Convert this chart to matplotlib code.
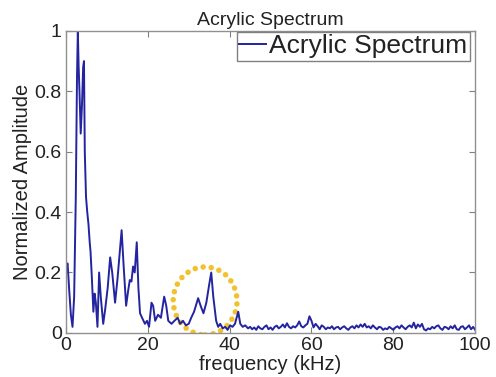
import matplotlib
matplotlib.use("Agg")
import matplotlib.pyplot as plt
from matplotlib.patches import Ellipse

plt.rcParams['font.family'] = ['Liberation Sans', 'DejaVu Sans']

# spectrum (kHz, normalized amplitude)
low_freq = [0, 0.4, 0.8, 1.2, 1.6, 2.0, 2.4, 2.7, 2.9, 3.1, 3.3, 3.6, 3.9, 4.2, 4.4,
            4.6, 4.9, 5.2, 5.5, 5.8, 6.0, 6.3, 6.7, 7.0, 7.3, 7.7, 8.1, 8.5, 9.1, 9.6,
            10.2, 10.8, 11.3, 12.0, 12.6, 13.1, 13.6, 14.1, 14.7, 15.2, 15.6, 16.0,
            16.4, 16.8, 17.3, 17.7, 18.1, 18.6, 19.3, 19.8]
low_amp = [0.22, 0.23, 0.14, 0.06, 0.02, 0.12, 0.45, 0.85, 1.0, 0.88, 0.80, 0.66,
           0.75, 0.88, 0.90, 0.60, 0.45, 0.40, 0.36, 0.30, 0.27, 0.19, 0.07, 0.13,
           0.10, 0.02, 0.20, 0.12, 0.03, 0.08, 0.15, 0.25, 0.20, 0.10, 0.18, 0.26,
           0.34, 0.22, 0.09, 0.14, 0.175, 0.17, 0.22, 0.20, 0.30, 0.15, 0.065, 0.05,
           0.03, 0.04]

mid_freq = [20.3, 20.9, 21.3, 21.8, 22.5, 23.2, 24.0, 24.5, 25.0, 25.8, 26.5, 27.3,
            27.9, 28.6, 29.3, 30.0, 30.6, 31.3, 32.3, 32.9, 33.6, 34.3, 35.0, 35.5,
            36.0, 36.7, 37.2, 37.7, 38.3, 38.9, 39.5, 40.1, 40.7, 41.3, 42.1, 42.6,
            43.2, 43.8, 44.5]
mid_amp = [0.02, 0.10, 0.09, 0.04, 0.06, 0.05, 0.12, 0.09, 0.04, 0.03, 0.04, 0.05,
           0.03, 0.04, 0.025, 0.03, 0.05, 0.07, 0.115, 0.09, 0.065, 0.10, 0.16, 0.20,
           0.12, 0.04, 0.02, 0.03, 0.015, 0.02, 0.01, 0.025, 0.02, 0.03, 0.07, 0.03,
           0.02, 0.025, 0.015]

tail_freq = [45.0, 45.5, 46.0, 46.5, 47.0, 47.5, 48.0, 48.5, 49.0, 49.5,
             50.0, 50.5, 51.0, 51.5, 52.0, 52.5, 53.0, 53.5, 54.0, 54.5,
             55.0, 55.5, 56.0, 56.5, 57.0, 57.5, 58.0, 58.5, 59.0, 59.5,
             60.0, 60.5, 61.0, 61.5, 62.0, 62.5, 63.0, 63.5, 64.0, 64.5,
             65.0, 65.5, 66.0, 66.5, 67.0, 67.5, 68.0, 68.5, 69.0, 69.5,
             70.0, 70.5, 71.0, 71.5, 72.0, 72.5, 73.0, 73.5, 74.0, 74.5,
             75.0, 75.5, 76.0, 76.5, 77.0, 77.5, 78.0, 78.5, 79.0, 79.5,
             80.0, 80.5, 81.0, 81.5, 82.0, 82.5, 83.0, 83.5, 84.0, 84.5,
             85.0, 85.5, 86.0, 86.5, 87.0, 87.5, 88.0, 88.5, 89.0, 89.5,
             90.0, 90.5, 91.0, 91.5, 92.0, 92.5, 93.0, 93.5, 94.0, 94.5,
             95.0, 95.5, 96.0, 96.5, 97.0, 97.5, 98.0, 98.5, 99.0, 99.5, 100.0]
tail_amp = [0.020, 0.012, 0.018, 0.010, 0.022, 0.015, 0.012, 0.020, 0.025, 0.012,
            0.018, 0.010, 0.020, 0.024, 0.015, 0.020, 0.028, 0.018, 0.032, 0.020,
            0.015, 0.022, 0.018, 0.025, 0.038, 0.022, 0.018, 0.025, 0.030, 0.055,
            0.040, 0.018, 0.030, 0.022, 0.012, 0.025, 0.020, 0.012, 0.018, 0.015,
            0.022, 0.012, 0.018, 0.020, 0.012, 0.018, 0.022, 0.015, 0.010, 0.018,
            0.022, 0.015, 0.025, 0.018, 0.028, 0.020, 0.030, 0.018, 0.022, 0.015,
            0.025, 0.018, 0.012, 0.020, 0.018, 0.010, 0.015, 0.012, 0.020, 0.015,
            0.010, 0.018, 0.022, 0.015, 0.025, 0.018, 0.012, 0.020, 0.025, 0.018,
            0.034, 0.015, 0.028, 0.020, 0.030, 0.012, 0.008, 0.015, 0.012, 0.020,
            0.015, 0.022, 0.025, 0.015, 0.010, 0.020, 0.018, 0.012, 0.022, 0.015,
            0.025, 0.012, 0.010, 0.020, 0.022, 0.012, 0.018, 0.025, 0.012, 0.020, 0.010]

freq = low_freq + mid_freq + tail_freq
amp = low_amp + mid_amp + tail_amp

x_ticks = [0, 20, 40, 60, 80, 100]
y_ticks = [0, 0.2, 0.4, 0.6, 0.8, 1]
y_ticklabels = ['0', '0.2', '0.4', '0.6', '0.8', '1']

fig = plt.figure(figsize=(4.96, 3.77), dpi=100)
ax = fig.add_axes([0.133, 0.117, 0.825, 0.801])

ax.plot(freq, amp, color='#2424a0', lw=1.4, label='Acrylic Spectrum')

# dotted circle around the 35 kHz peak
circ = Ellipse((34, 0.106), 15.6, 0.225, fill=False, edgecolor='#f2c22e',
               lw=4, linestyle=(0, (0.01, 1.45)))
circ.set_capstyle('round')
ax.add_patch(circ)

ax.set_xlim(0, 100)
ax.set_ylim(0, 1)
ax.set_xticks(x_ticks)
ax.set_yticks(y_ticks)
ax.set_yticklabels(y_ticklabels)
ax.tick_params(direction='in', length=4, width=0.8, color='#808080',
               labelsize=14, labelcolor='#222222', top=True, right=True, pad=3)
for s in ax.spines.values():
    s.set_color('#909090')
    s.set_linewidth(1)

ax.set_title('Acrylic Spectrum', fontsize=14, color='#222222', pad=4)
ax.set_xlabel('frequency (kHz)', fontsize=14.5, color='#222222', labelpad=1)
ax.set_ylabel('Normalized Amplitude', fontsize=14.5, color='#222222', labelpad=2)

leg = ax.legend(loc='upper right', bbox_to_anchor=(0.988, 0.997), fontsize=19,
                handlelength=1.0, handletextpad=0.15, borderpad=0.1,
                fancybox=False, framealpha=1, edgecolor='#808080', borderaxespad=0)
leg.get_frame().set_linewidth(1)
for t in leg.get_texts():
    t.set_color('#222222')

fig.savefig('out.png', dpi=100)
